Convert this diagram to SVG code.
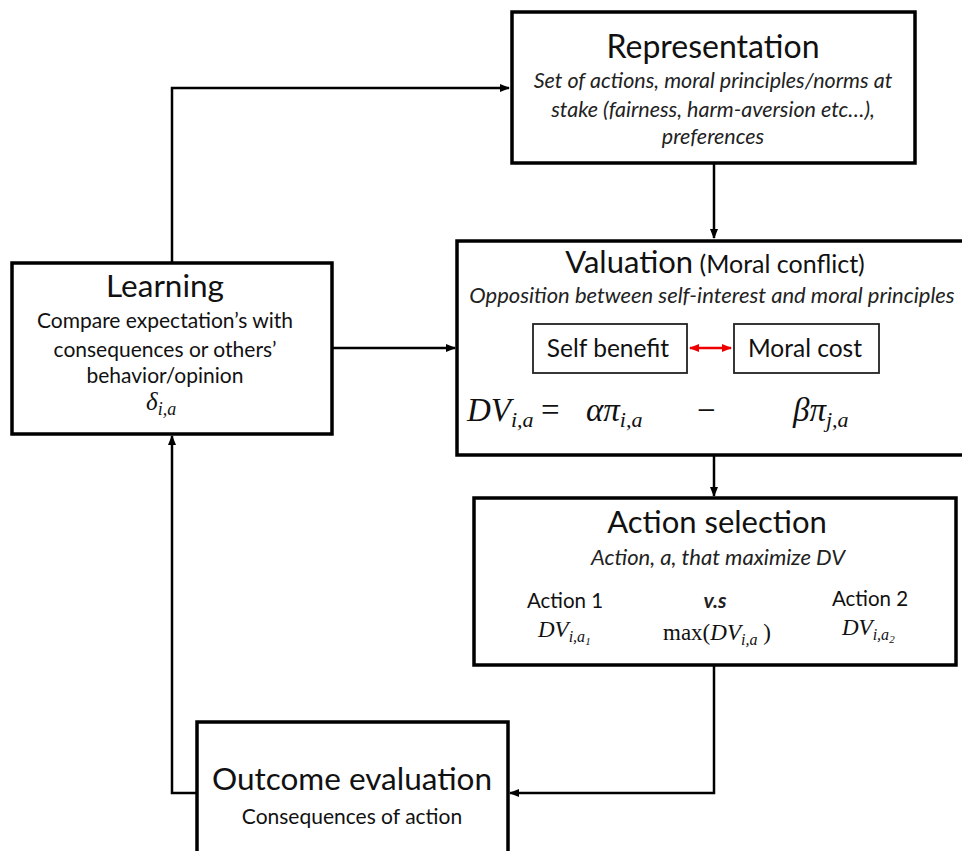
<svg xmlns="http://www.w3.org/2000/svg" width="962" height="851" viewBox="0 0 962 851">
<style>
.box{fill:#fff;stroke:#000;stroke-width:3.5}
.sub{fill:#fff;stroke:#222;stroke-width:1.8}
.t{font-family:Lato,"Open Sans",sans-serif;fill:#111;text-anchor:middle}
.ti{font-family:Lato,"Open Sans",sans-serif;font-style:italic;fill:#222;text-anchor:middle}
.m{font-family:"Liberation Serif","DejaVu Serif",serif;font-style:italic;fill:#111}
.mu{font-family:"Liberation Serif","DejaVu Serif",serif;fill:#111}
.c{fill:none;stroke:#000;stroke-width:2.5}
</style>
<defs>
<marker id="ah" markerWidth="10" markerHeight="10" refX="9" refY="5" orient="auto" markerUnits="userSpaceOnUse">
<path d="M0,1 L10,5 L0,9 Z" fill="#000"/>
</marker>
<marker id="rh" markerWidth="10" markerHeight="10" refX="9" refY="5" orient="auto-start-reverse" markerUnits="userSpaceOnUse">
<path d="M0,1 L10,5 L0,9 Z" fill="#e00"/>
</marker>
</defs>
<rect width="962" height="851" fill="#fff"/>
<g id="connectors">
<path class="c" d="M172,263 V88 H509" marker-end="url(#ah)"/>
<path class="c" d="M714,164 V238" marker-end="url(#ah)"/>
<path class="c" d="M332,348 H455" marker-end="url(#ah)"/>
<path class="c" d="M714,455 V496" marker-end="url(#ah)"/>
<path class="c" d="M714,665 V793 H510" marker-end="url(#ah)"/>
<path class="c" d="M197,793 H172 V436" marker-end="url(#ah)"/>
</g>
<g id="representation">
<rect class="box" x="512" y="12" width="403" height="151"/>
<text class="t" x="713" y="58" font-size="32">Representation</text>
<text class="ti" x="713" y="88" font-size="21.5">Set of actions, moral principles/norms at</text>
<text class="ti" x="713" y="117" font-size="21.5">stake (fairness, harm-aversion etc…),</text>
<text class="ti" x="713" y="144" font-size="21.5">preferences</text>
</g>
<g id="valuation">
<rect class="box" x="457" y="241" width="520" height="214"/>
<text class="t" x="715" y="273"><tspan font-size="31">Valuation</tspan><tspan font-size="25"> (Moral conflict)</tspan></text>
<text class="ti" x="712" y="303" font-size="22">Opposition between self-interest and moral principles</text>
<g id="self-benefit">
<rect class="sub" x="533" y="324" width="154" height="49"/>
<text class="t" x="608" y="357" font-size="24.5">Self benefit</text>
</g>
<g id="moral-cost">
<rect class="sub" x="734" y="324" width="145" height="49"/>
<text class="t" x="805" y="357" font-size="24.5">Moral cost</text>
</g>
<path d="M690,348 H731" stroke="#e00" stroke-width="2.5" fill="none" marker-start="url(#rh)" marker-end="url(#rh)"/>
<text x="467" y="421" font-size="33"><tspan class="m">DV</tspan><tspan class="m" font-size="22" dy="6">i,a</tspan></text>
<text class="mu" x="541" y="421" font-size="33">=</text>
<text x="586" y="421" font-size="33"><tspan class="m">απ</tspan><tspan class="m" font-size="22" dy="6">i,a</tspan></text>
<text class="mu" x="697" y="421" font-size="33">−</text>
<text x="793" y="421" font-size="33"><tspan class="m">βπ</tspan><tspan class="m" font-size="22" dy="6">j,a</tspan></text>
</g>
<g id="learning">
<rect class="box" x="12" y="263" width="320" height="171"/>
<text class="t" x="165" y="297" font-size="31.5">Learning</text>
<text class="t" x="165" y="328" font-size="21">Compare expectation’s with</text>
<text class="t" x="165" y="357" font-size="21">consequences or others’</text>
<text class="t" x="165" y="383" font-size="21">behavior/opinion</text>
<text x="146" y="410" font-size="25"><tspan class="m">δ</tspan><tspan class="m" font-size="18" dy="5">i,a</tspan></text>
</g>
<g id="action-selection">
<rect class="box" x="474" y="498" width="482" height="167"/>
<text class="t" x="717" y="533" font-size="31">Action selection</text>
<text class="ti" x="718" y="565" font-size="22">Action, a, that maximize DV</text>
<text class="t" x="565" y="608" font-size="20.5">Action 1</text>
<text class="ti" x="715" y="608" font-size="21" font-weight="bold">v.s</text>
<text class="t" x="870" y="606" font-size="20.5">Action 2</text>
<text x="538" y="637" font-size="23"><tspan class="m">DV</tspan><tspan class="m" font-size="16" dy="5">i,a</tspan><tspan class="m" font-size="11" dy="3">1</tspan></text>
<text x="663" y="640" font-size="23"><tspan class="mu">max(</tspan><tspan class="m">DV</tspan><tspan class="m" font-size="16" dy="5">i,a</tspan><tspan class="mu" dy="-5"> )</tspan></text>
<text x="842" y="635" font-size="23"><tspan class="m">DV</tspan><tspan class="m" font-size="16" dy="5">i,a</tspan><tspan class="m" font-size="11" dy="3">2</tspan></text>
</g>
<g id="outcome-evaluation">
<rect class="box" x="197" y="722" width="311" height="140"/>
<text class="t" x="352" y="790" font-size="31.5">Outcome evaluation</text>
<text class="t" x="352" y="824" font-size="21">Consequences of action</text>
</g>
</svg>
